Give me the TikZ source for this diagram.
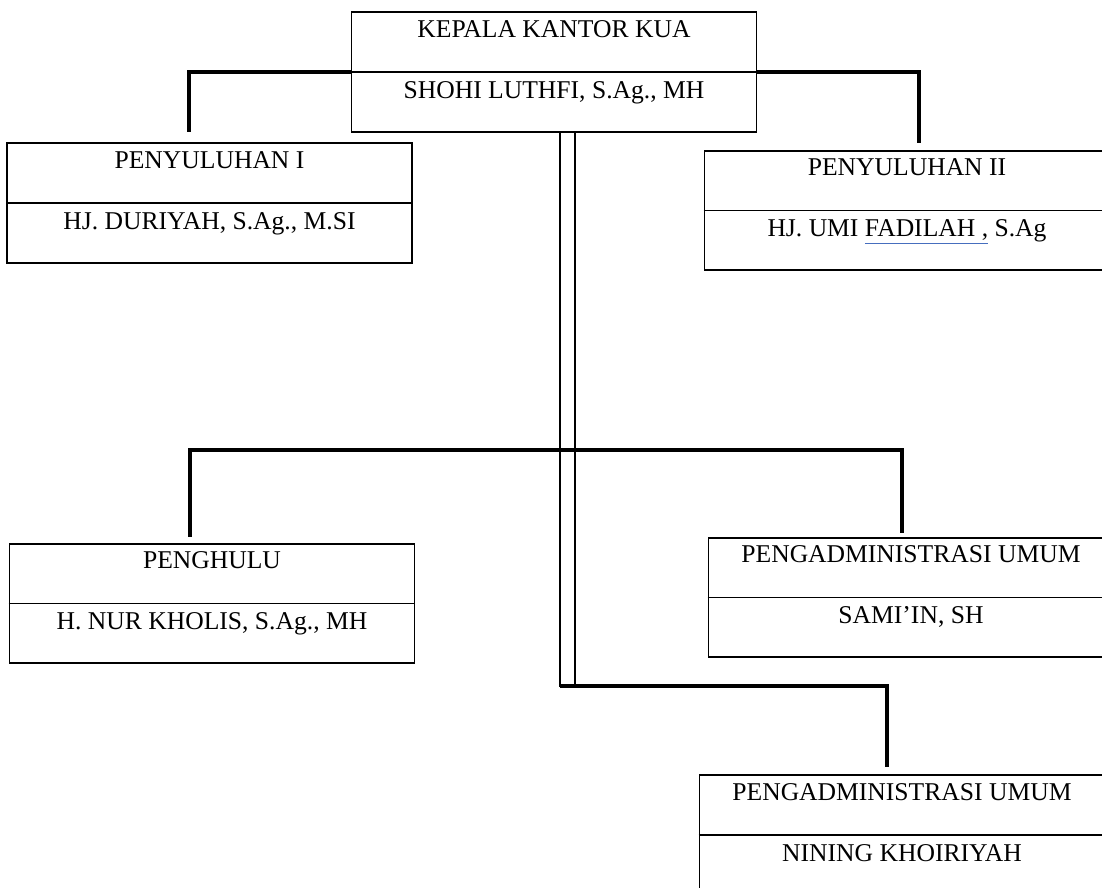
\documentclass[tikz,border=0pt]{standalone}
\usepackage{fontspec}
\setmainfont{Liberation Serif}
\definecolor{ejaan}{RGB}{70,110,190}
\begin{document}
\begin{tikzpicture}[x=0.5pt, y=-0.5pt, font=\fontsize{12.8}{15}\selectfont,
	kotak/.style = {draw, line width=0.9pt, minimum width=202.5pt, minimum height=59.75pt, inner sep=0pt},
	teks/.style = {anchor=base, inner sep=0pt},
	garis/.style = {line width=1.7pt},
	ganda/.style = {line width=1.1pt, line cap=rect}]

		\useasboundingbox (0,0) rectangle (1102,888);
		\clip (0,0) rectangle (1102,888);

		\node[kotak] (kepala) at (554,72) {};
		\node[kotak] (penyuluh1) at (209.5,203) {};
		\node[kotak] (penyuluh2) at (907,210.5) {};
		\node[kotak] (penghulu) at (212,603.5) {};
		\node[kotak] (admin1) at (911,597.5) {};
		\node[kotak] (admin2) at (902,835) {};

		\foreach \k in {kepala, penyuluh1, penyuluh2, penghulu, admin1, admin2}
			\draw[line width=0.9pt] (\k.west) -- (\k.east);

		\node[teks] (kepala-jab) at ([yshift=-13pt]kepala.north) {KEPALA KANTOR KUA};
		\node[teks] (kepala-nama) at ([yshift=-13pt]kepala.center) {SHOHI LUTHFI, S.Ag., MH};
		\node[teks] (penyuluh1-jab) at ([yshift=-13pt]penyuluh1.north) {PENYULUHAN I};
		\node[teks] (penyuluh1-nama) at ([yshift=-13pt]penyuluh1.center) {HJ. DURIYAH, S.Ag., M.SI};
		\node[teks] (penyuluh2-jab) at ([yshift=-13pt]penyuluh2.north) {PENYULUHAN II};
		\node[teks] (penyuluh2-nama) at ([yshift=-13pt]penyuluh2.center) {HJ. UMI {\color{ejaan}\underline{\color{black}FADILAH ,}} S.Ag};
		\node[teks] (penghulu-jab) at ([yshift=-13pt]penghulu.north) {PENGHULU};
		\node[teks] (penghulu-nama) at ([yshift=-13pt]penghulu.center) {H. NUR KHOLIS, S.Ag., MH};
		\node[teks] (admin1-jab) at ([yshift=-13pt]admin1.north) {PENGADMINISTRASI UMUM};
		\node[teks] (admin1-nama) at ([yshift=-13pt]admin1.center) {SAMI’IN, SH};
		\node[teks] (admin2-jab) at ([yshift=-13pt]admin2.north) {PENGADMINISTRASI UMUM};
		\node[teks] (admin2-nama) at ([yshift=-13pt]admin2.center) {NINING KHOIRIYAH};

		\coordinate (simpang) at (560,450);
		\coordinate (kiri) at (560,686);
		\coordinate (kanan) at (575,686);

		\draw[garis, shorten >=5pt] (kepala.west) -| ([xshift=-10.25pt]penyuluh1.north);
		\draw[garis, shorten >=3.5pt] (kepala.east) -| ([xshift=6pt]penyuluh2.north);
		\draw[ganda] (kiri |- kepala.south) -- (kiri);
		\draw[ganda] (kanan |- kepala.south) -- (kanan);
		\draw[garis, shorten <=3pt, shorten >=2pt] ([xshift=-11pt]penghulu.north) |- (simpang) -| ([xshift=-4.5pt]admin1.north);
		\draw[garis, shorten >=3.5pt] (kiri) -| ([xshift=-7.5pt]admin2.north);
	\end{tikzpicture}
\end{document}
